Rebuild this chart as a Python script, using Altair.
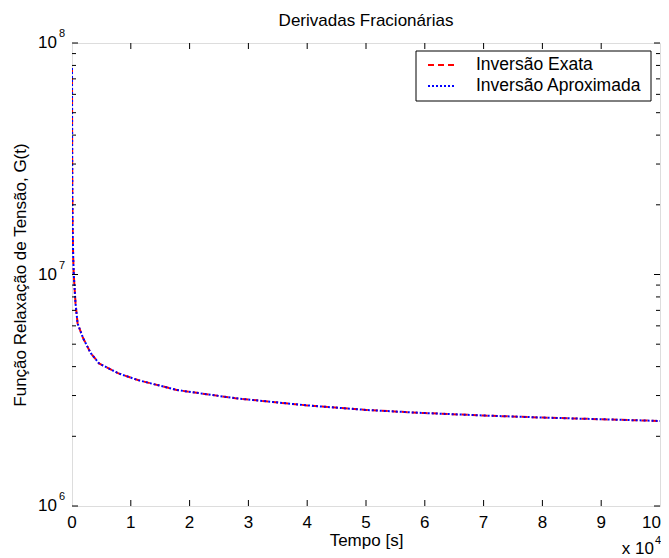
import altair as alt
import pandas as pd

# ---- data (time in units of 1e4 s) ----
t_exata = [0, 0.002, 0.005, 0.01, 0.02, 0.03, 0.06, 0.095, 0.19, 0.32, 0.46,
           0.79, 1.12, 1.78, 2.78, 4, 5, 6, 7, 8, 9, 10]
g_exata = [7.8e7, 4.0e7, 2.5e7, 1.6e7, 1.2e7, 1.0e7, 7.5e6, 6.15e6, 5.3e6,
           4.57e6, 4.13e6, 3.74e6, 3.5e6, 3.17e6, 2.92e6, 2.72e6, 2.6e6,
           2.52e6, 2.46e6, 2.41e6, 2.37e6, 2.33e6]
t_aprox = [0, 0.002, 0.005, 0.01, 0.02, 0.03, 0.06, 0.095, 0.19, 0.32, 0.46,
           0.79, 1.12, 1.78, 2.78, 4, 5, 6, 7, 8, 9, 10]
g_aprox = [7.8e7, 4.0e7, 2.5e7, 1.6e7, 1.2e7, 1.0e7, 7.5e6, 6.15e6, 5.3e6,
           4.57e6, 4.13e6, 3.74e6, 3.5e6, 3.17e6, 2.92e6, 2.72e6, 2.6e6,
           2.52e6, 2.46e6, 2.41e6, 2.37e6, 2.33e6]
series_names = ["Inversão Exata", "Inversão Aproximada"]
series_colors = ["#ff0000", "#0000ff"]
series_dashes = [[6, 4], [2, 2]]
x_ticks = [1, 2, 3, 4, 5, 6, 7, 8, 9]
x_labels_mid = [0, 1, 2, 3, 4, 5, 6, 7, 8, 9]
x_label_last = [10]
y_major = [1e6, 1e7, 1e8]
y_exp = ["6", "7", "8"]
y_minor = [m * 10 ** e for e in (6, 7) for m in range(2, 10)]

W, H = 588, 463
FONT = "Liberation Sans, Arial, sans-serif"
FS = 17

df_ex = pd.DataFrame({"t": t_exata, "G": g_exata, "serie": series_names[0]})
df_ap = pd.DataFrame({"t": t_aprox, "G": g_aprox, "serie": series_names[1]})

xscale = alt.Scale(domain=[0, 10], nice=False, zero=False)
yscale = alt.Scale(type="log", domain=[1e6, 1e8], nice=False)

xaxis = alt.Axis(labels=False, ticks=False, domain=False, grid=False,
                 title="Tempo [s]", titleFont=FONT, titleFontSize=FS,
                 titleFontWeight="normal", titleColor="black", titlePadding=26)
yaxis = alt.Axis(labels=False, ticks=False, domain=False, grid=False,
                 title="Função Relaxação de Tensão, G(t)", titleFont=FONT,
                 titleFontSize=FS, titleFontWeight="normal", titleColor="black",
                 titlePadding=43)

color = alt.Color("serie:N", scale=alt.Scale(domain=series_names, range=series_colors), legend=None)
dash = alt.StrokeDash("serie:N", scale=alt.Scale(domain=series_names, range=series_dashes), legend=None)


def X(field):
    return alt.X(field, scale=xscale, axis=xaxis, title="Tempo [s]")


def Y(field):
    return alt.Y(field, scale=yscale, axis=yaxis, title="Função Relaxação de Tensão, G(t)")


line_ex = alt.Chart(df_ex).mark_line(strokeWidth=2, clip=True).encode(
    x=X("t:Q"), y=Y("G:Q"), color=color, strokeDash=dash)
line_ap = alt.Chart(df_ap).mark_line(strokeWidth=2, clip=True).encode(
    x=X("t:Q"), y=Y("G:Q"), color=color, strokeDash=dash)

# ticks pointing inward on all four sides (MATLAB box)
xt = pd.DataFrame({"v": x_ticks})
xt_bottom = alt.Chart(xt).mark_rule(color="black", strokeWidth=1).encode(
    x=X("v:Q"), y=alt.value(H), y2=alt.value(H - 6))
xt_top = alt.Chart(xt).mark_rule(color="black", strokeWidth=1).encode(
    x=X("v:Q"), y=alt.value(0), y2=alt.value(6))

# x tick labels
xl_mid = alt.Chart(pd.DataFrame({"v": x_labels_mid})).mark_text(
    align="center", baseline="alphabetic", font=FONT, fontSize=FS, color="black").encode(
    x=X("v:Q"), y=alt.value(H + 22), text=alt.Text("v:Q", format="d"))
xl_last = alt.Chart(pd.DataFrame({"v": x_label_last})).mark_text(
    align="right", baseline="alphabetic", font=FONT, fontSize=FS, color="black", dx=1).encode(
    x=X("v:Q"), y=alt.value(H + 22), text=alt.Text("v:Q", format="d"))

ymaj = pd.DataFrame({"v": y_major, "e": y_exp, "b": ["10"] * 3})
ymin = pd.DataFrame({"v": y_minor})
ymaj_l = alt.Chart(ymaj).mark_rule(color="black").encode(
    y=Y("v:Q"), x=alt.value(0), x2=alt.value(6))
ymaj_r = alt.Chart(ymaj).mark_rule(color="black").encode(
    y=Y("v:Q"), x=alt.value(W - 6), x2=alt.value(W))
ymin_l = alt.Chart(ymin).mark_rule(color="black").encode(
    y=Y("v:Q"), x=alt.value(0), x2=alt.value(4))
ymin_r = alt.Chart(ymin).mark_rule(color="black").encode(
    y=Y("v:Q"), x=alt.value(W - 4), x2=alt.value(W))

ylab = alt.Chart(ymaj).mark_text(align="right", baseline="middle", font=FONT,
                                 fontSize=FS, color="black").encode(
    y=Y("v:Q"), x=alt.value(-15), text="b:N")
yexp = alt.Chart(ymaj).mark_text(align="left", baseline="alphabetic", font=FONT,
                                 fontSize=11, color="black", dy=-6).encode(
    y=Y("v:Q"), x=alt.value(-13), text="e:N")

# multiplier "x 10^4" below the right end of the x axis
mult = pd.DataFrame({"s": ["x 10"], "e": ["4"]})
mult_b = alt.Chart(mult).mark_text(align="right", baseline="alphabetic", font=FONT,
                                   fontSize=FS, color="black").encode(
    x=alt.value(W - 6), y=alt.value(H + 48), text="s:N")
mult_e = alt.Chart(mult).mark_text(align="left", baseline="alphabetic", font=FONT,
                                   fontSize=11, color="black").encode(
    x=alt.value(W - 5), y=alt.value(H + 38), text="e:N")

# title
ttl = alt.Chart(pd.DataFrame({"s": ["Derivadas Fracionárias"]})).mark_text(
    align="center", baseline="alphabetic", font=FONT, fontSize=FS, color="black").encode(
    x=alt.value(W / 2), y=alt.value(-17), text="s:N")

# legend box (MATLAB style, inside top-right)
LX0, LX1, LY0, LY1 = W - 244, W - 9, 8, 58
leg_box = alt.Chart(pd.DataFrame({"a": [0]})).mark_rect(
    fill="white", stroke="black", strokeWidth=1).encode(
    x=alt.value(LX0), x2=alt.value(LX1), y=alt.value(LY0), y2=alt.value(LY1))
leg_items = []
for i, name in enumerate(series_names):
    yy = 22 + 21 * i
    d = pd.DataFrame({"serie": [name]})
    leg_items.append(alt.Chart(d).mark_rule(strokeWidth=2).encode(
        x=alt.value(LX0 + 12), x2=alt.value(LX0 + 40), y=alt.value(yy), color=color, strokeDash=dash))
    leg_items.append(alt.Chart(d).mark_text(
        align="left", baseline="middle", font=FONT, fontSize=17.5, color="black").encode(
        x=alt.value(LX0 + 60), y=alt.value(yy), text="serie:N"))

chart = alt.layer(
    line_ex, line_ap, xt_bottom, xt_top, xl_mid, xl_last, ymaj_l, ymaj_r, ymin_l, ymin_r,
    ylab, yexp, mult_b, mult_e, ttl, leg_box, *leg_items,
).properties(
    width=W, height=H,
    autosize=alt.AutoSizeParams(type="none"),
    padding={"left": 64, "top": 35, "right": 1, "bottom": 52},
).configure_view(stroke="black", strokeWidth=1).configure(background="white")

chart.save("out.html", embed_options={"renderer": "svg", "actions": False})
